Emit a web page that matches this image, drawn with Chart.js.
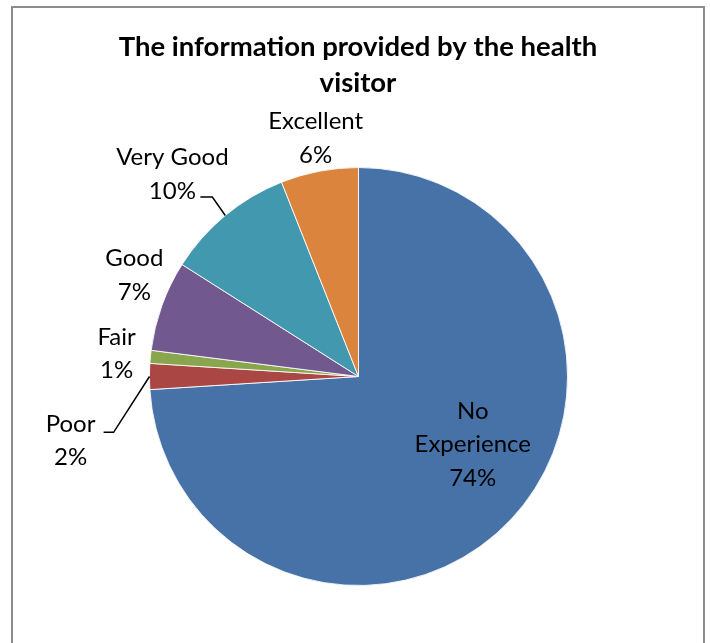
<!DOCTYPE html>
<html>
<head>
<meta charset="utf-8">
<title>Health visitor information</title>
<script src="https://cdn.jsdelivr.net/npm/chart.js@4.4.1/dist/chart.umd.min.js"></script>
<style>
  html, body { margin: 0; padding: 0; background: #fff; }
  canvas { display: block; }
</style>
</head>
<body>
<canvas id="pie" width="710" height="643"></canvas>
<script>
// Ratings, in drawing order (clockwise from 12 o'clock)
const categories = ['No Experience', 'Poor', 'Fair', 'Good', 'Very Good', 'Excellent'];
const percents = [74, 2, 1, 7, 10, 6];
const colors = ['#4672A8', '#AA4643', '#89A54E', '#71588F', '#4198AF', '#DB843D'];

const titleLines = ['The information provided by the health', 'visitor'];

// Where each data label sits: distance from the centre in px, angle nudge in degrees,
// whether the name is split over lines, and an optional leader elbow (relative to label centre)
const labelLayout = [
    { dist: 133, shift: -12.4, wrap: true },
    { dist: 295, shift: -12.6, leader: [[33, -8.5], [43, -8.5]] },
    { dist: 243, shift: 0 },
    { dist: 246, shift: 4.5 },
    { dist: 275, shift: -3, leader: [[28, 23], [40, 23]] },
    { dist: 242, shift: 0.6 }
];

const FONT = 'Lato, "Open Sans", sans-serif';

const frameAndLabels = {
    id: 'frameAndLabels',
    beforeDraw(chart) {
        const ctx = chart.ctx;
        ctx.save();
        ctx.fillStyle = '#fff';
        ctx.fillRect(0, 0, chart.width, chart.height);
        ctx.strokeStyle = '#8c8c8c';
        ctx.lineWidth = 2;
        ctx.strokeRect(12, 7, 692, 700);

        // title
        ctx.fillStyle = '#000';
        ctx.font = 'bold 27.5px ' + FONT;
        ctx.textAlign = 'center';
        ctx.textBaseline = 'middle';
        titleLines.forEach((line, i) => {
            ctx.fillText(line, 358, 47 + i * 36);
        });
        ctx.restore();
    },
    afterDatasetsDraw(chart) {
        const ctx = chart.ctx;
        const arcs = chart.getDatasetMeta(0).data;
        const values = chart.data.datasets[0].data;
        const total = values.reduce((a, b) => a + b, 0);

        ctx.save();
        ctx.fillStyle = '#000';
        ctx.font = '24px ' + FONT;
        ctx.textAlign = 'center';
        ctx.textBaseline = 'middle';
        const lineH = 33.5;

        arcs.forEach((arc, i) => {
            const lay = labelLayout[i];
            const mid = (arc.startAngle + arc.endAngle) / 2;
            const a = mid + lay.shift * Math.PI / 180;
            const cx = arc.x + Math.cos(a) * lay.dist;
            const cy = arc.y + Math.sin(a) * lay.dist;

            const name = chart.data.labels[i];
            const lines = lay.wrap ? name.split(' ') : [name];
            lines.push(Math.round(values[i] / total * 100) + '%');

            const top = cy - (lines.length - 1) * lineH / 2;
            lines.forEach((t, k) => ctx.fillText(t, cx, top + k * lineH));

            if (lay.leader) {
                // leader line from the label to the slice edge
                const edgeX = arc.x + Math.cos(mid) * arc.outerRadius;
                const edgeY = arc.y + Math.sin(mid) * arc.outerRadius;
                ctx.beginPath();
                ctx.strokeStyle = '#000';
                ctx.lineWidth = 1.5;
                ctx.moveTo(cx + lay.leader[0][0], cy + lay.leader[0][1]);
                ctx.lineTo(cx + lay.leader[1][0], cy + lay.leader[1][1]);
                ctx.lineTo(edgeX, edgeY);
                ctx.stroke();
            }
        });
        ctx.restore();
    }
};

new Chart(document.getElementById('pie'), {
    type: 'pie',
    data: {
        labels: categories,
        datasets: [{
            data: percents,
            backgroundColor: colors,
            borderColor: 'rgba(255, 255, 255, 0.85)',
            borderWidth: 1
        }]
    },
    options: {
        responsive: false,
        animation: false,
        devicePixelRatio: 1,
        layout: { padding: { left: 149, right: 142, top: 167, bottom: 57 } },
        plugins: {
            legend: { display: false },
            tooltip: { enabled: false },
            title: { display: false }
        }
    },
    plugins: [frameAndLabels]
});
</script>
</body>
</html>
